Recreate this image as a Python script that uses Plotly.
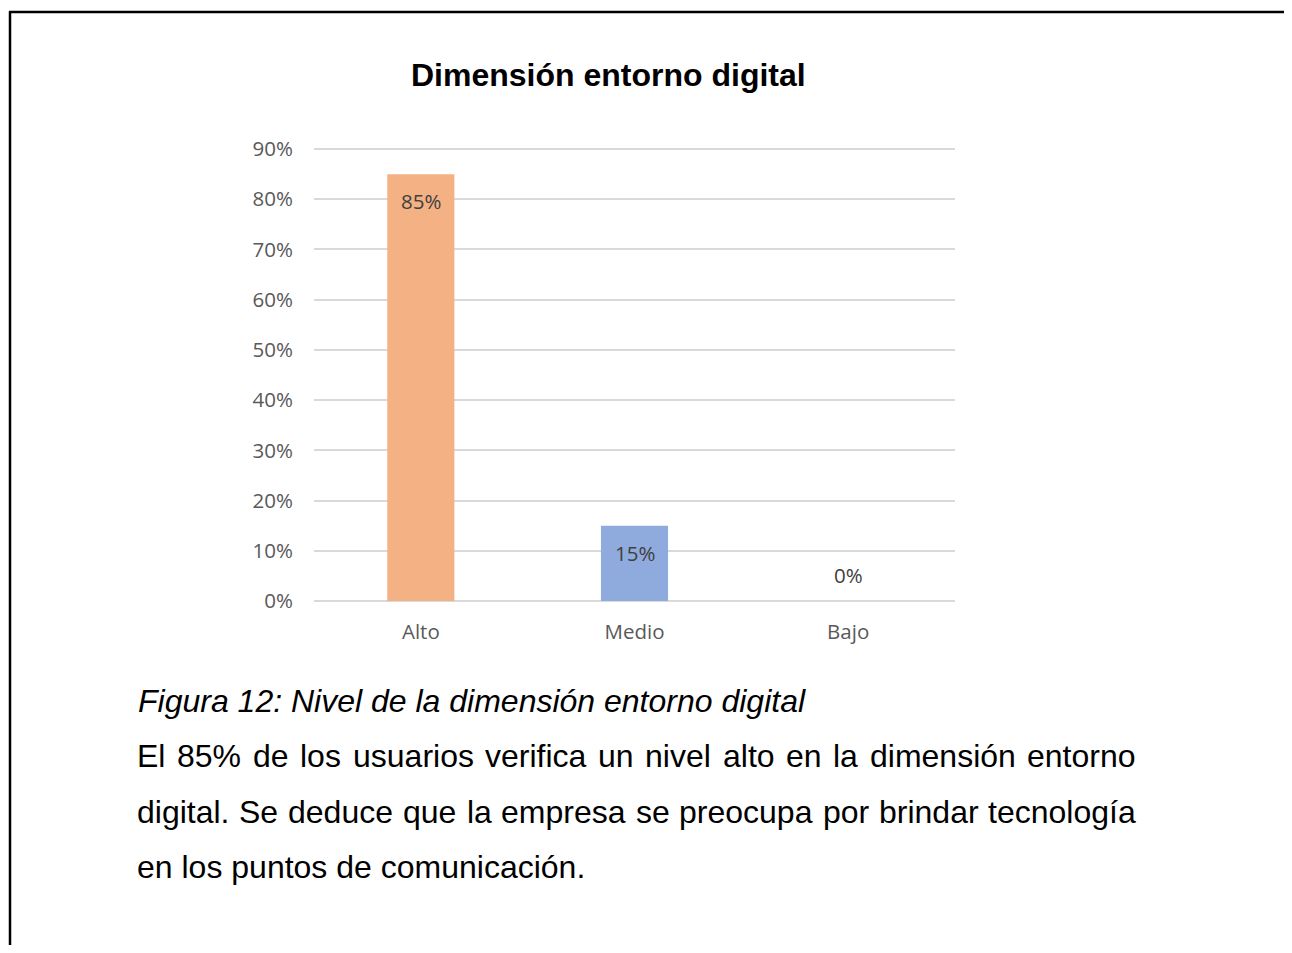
import plotly.graph_objects as go

# ---- data ----
categories = ["Alto", "Medio", "Bajo"]
values = [0.85, 0.15, 0.0]
value_labels = ["85%", "15%", "0%"]
bar_colors = ["#F4B183", "#8FAADC", "#A9D18E"]
y_tick_vals = [0, 0.1, 0.2, 0.3, 0.4, 0.5, 0.6, 0.7, 0.8, 0.9]
y_tick_text = ["0%", "10%", "20%", "30%", "40%", "50%", "60%", "70%", "80%", "90%"]

title_text = "Dimensión entorno digital"
caption_text = "Figura 12: Nivel de la dimensión entorno digital"
paragraph_lines = [
    "El 85% de los usuarios verifica un nivel alto en la dimensión entorno",
    "digital. Se deduce que la empresa se preocupa por brindar tecnología",
    "en los puntos de comunicación.",
]
justified = [True, True, False]

# ---- layout geometry (screen pixels; the page body adds an 8px margin) ----
OFF = 8
W, H = 1292 - OFF, 953 - 16
YMAX = 0.92
PL, PR, PB = 314, 955, 601              # plot area edges (screen px)
PT = round(PB - 452 * YMAX / 0.9)       # 90% gridline lands at y=149


def px(x):
    return (x - PL) / (PR - PL)


def py(y):
    return (PB - y) / (PB - PT)


# Arial / Liberation Sans advance widths (1/1000 em) for justification
AW = {" ": 278, ".": 278, "%": 889, ":": 278, "E": 667, "S": 667, "F": 611, "N": 722,
      "a": 556, "b": 556, "c": 500, "d": 556, "e": 556, "f": 278, "g": 556, "h": 556,
      "i": 222, "j": 222, "k": 500, "l": 222, "m": 833, "n": 556, "o": 556, "p": 556,
      "q": 556, "r": 333, "s": 500, "t": 278, "u": 556, "v": 500, "w": 722, "x": 500,
      "y": 500, "z": 500, "ó": 556, "í": 278, "á": 556}


def text_w(s, size):
    return sum(AW.get(ch, 556) for ch in s) * size / 1000.0


fig = go.Figure()
fig.add_trace(go.Bar(
    x=categories, y=values,
    marker=dict(color=bar_colors, line=dict(width=0)),
    width=0.314,
    hoverinfo="skip",
))

annotations = []
for c, v, t in zip(categories, values, value_labels):
    annotations.append(dict(
        x=c, y=v, xref="x", yref="y", text=t, showarrow=False,
        yanchor="middle", yshift=(-27 if v > 0 else 26),
        font=dict(family="Open Sans", size=20.5, color="#404040"),
    ))

TXT_FONT = "Liberation Sans, Arial"
FS = 32
annotations.append(dict(
    x=px(608), y=py(75), xref="paper", yref="paper", text="<b>" + title_text + "</b>",
    showarrow=False, xanchor="center", yanchor="middle",
    font=dict(family=TXT_FONT, size=32, color="#000000"),
))
annotations.append(dict(
    x=px(136), y=py(701), xref="paper", yref="paper", text="<i>" + caption_text + "</i>",
    showarrow=False, xanchor="left", yanchor="middle",
    font=dict(family=TXT_FONT, size=FS, color="#000000"),
))

LEFT, RIGHT = 137, 1136
for i, (line, just) in enumerate(zip(paragraph_lines, justified)):
    yy = py(756 + i * 55.5)
    if not just:
        annotations.append(dict(
            x=px(LEFT - 2), y=yy, xref="paper", yref="paper", text=line,
            showarrow=False, xanchor="left", yanchor="middle",
            font=dict(family=TXT_FONT, size=FS, color="#000000"),
        ))
        continue
    words = line.split(" ")
    widths = [text_w(w, FS) for w in words]
    gap = (RIGHT - LEFT - sum(widths)) / (len(words) - 1)
    xcur = LEFT
    for w, wd in zip(words, widths):
        annotations.append(dict(
            x=px(xcur - 2), y=yy, xref="paper", yref="paper", text=w,
            showarrow=False, xanchor="left", yanchor="middle",
            font=dict(family=TXT_FONT, size=FS, color="#000000"),
        ))
        xcur += wd + gap

shapes = [
    dict(type="line", xref="paper", yref="paper", x0=px(10), x1=px(10), y0=py(11.5), y1=py(980),
         line=dict(color="#000000", width=2.5)),
    dict(type="line", xref="paper", yref="paper", x0=px(9), x1=px(1310), y0=py(12), y1=py(12),
         line=dict(color="#000000", width=2.5)),
]

fig.update_layout(
    width=W, height=H,
    margin=dict(l=PL - OFF, r=W - (PR - OFF), t=PT - OFF, b=H - (PB - OFF), pad=0),
    paper_bgcolor="white", plot_bgcolor="white",
    showlegend=False,
    annotations=annotations,
    shapes=shapes,
    xaxis=dict(
        showgrid=False, showline=False, zeroline=False,
        tickfont=dict(family="Open Sans", size=20.5, color="#595959"),
        ticks="", ticklabelstandoff=16,
    ),
    yaxis=dict(
        range=[0, YMAX], tickvals=y_tick_vals, ticktext=y_tick_text,
        showgrid=True, gridcolor="#D9D9D9", gridwidth=1.8,
        zeroline=True, zerolinecolor="#D9D9D9", zerolinewidth=2,
        showline=False, ticks="",
        tickfont=dict(family="Open Sans", size=20.5, color="#595959"),
        ticklabelstandoff=20,
    ),
)

fig.write_html("out.html")
